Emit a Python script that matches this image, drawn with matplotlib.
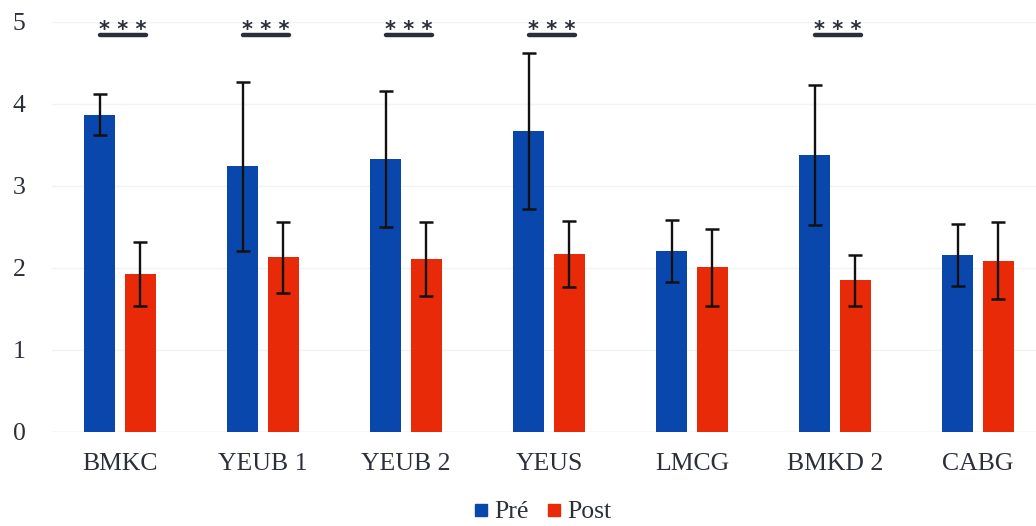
import matplotlib
matplotlib.use("Agg")
import matplotlib.pyplot as plt
from matplotlib.lines import Line2D
import numpy as np

categories = ["BMKC", "YEUB 1", "YEUB 2", "YEUS", "LMCG", "BMKD 2", "CABG"]
pre = [3.87, 3.24, 3.33, 3.67, 2.21, 3.38, 2.16]
pre_err = [0.25, 1.03, 0.83, 0.95, 0.38, 0.85, 0.38]
post = [1.93, 2.13, 2.11, 2.17, 2.01, 1.85, 2.09]
post_err = [0.39, 0.43, 0.45, 0.40, 0.47, 0.31, 0.47]
significant = ["BMKC", "YEUB 1", "YEUB 2", "YEUS", "BMKD 2"]
yticks = [0, 1, 2, 3, 4, 5]

BLUE = "#0a47ad"
RED = "#e82a08"
TXT = "#2b2f38"

plt.rcParams["font.family"] = ["Liberation Serif", "DejaVu Serif"]

W, H = 1036, 526
fig = plt.figure(figsize=(W / 100, H / 100), dpi=100)
L, R, B, T = 52, 1036, 432, 22
ax = fig.add_axes([L / W, (H - B) / H, (R - L) / W, (B - T) / H])

x = np.arange(len(categories))
bw = 0.217
off = 0.143
ax.bar(x - off, pre, bw, color=BLUE, zorder=2)
ax.bar(x + off, post, bw, color=RED, zorder=2)
ax.errorbar(x - off, pre, yerr=pre_err, fmt="none", ecolor="#111111",
            elinewidth=1.7, capsize=5, capthick=1.8, zorder=3)
ax.errorbar(x + off, post, yerr=post_err, fmt="none", ecolor="#111111",
            elinewidth=1.7, capsize=5, capthick=1.8, zorder=3)

px = 143.0
a = (L - 120) / px
b = (R - 120) / px
ax.set_xlim(a, b)
ax.set_ylim(0, 5)
ax.set_yticks(yticks)
ax.set_yticklabels([str(t) for t in yticks])
ax.set_xticks(x)
ax.set_xticklabels(categories)
ax.tick_params(axis="both", length=0, labelsize=18.5, colors=TXT)
ax.tick_params(axis="y", pad=19)
ax.tick_params(axis="x", pad=15)
for s in ax.spines.values():
    s.set_visible(False)
ax.axhline(0, color="#e6e6e6", lw=1, zorder=1)
ax.yaxis.grid(True, color="#f3f3f3", lw=1, zorder=0)
ax.set_axisbelow(True)

for i, c in enumerate(categories):
    if c in significant:
        ax.text(i + 0.02, 4.83, "* * *", ha="center", va="baseline", fontsize=15,
                fontweight="bold", color=TXT, family="DejaVu Sans")
        ax.plot([i - 0.14, i + 0.18], [4.84, 4.84], color=TXT, lw=3.2,
                solid_capstyle="round", clip_on=False)

handles = [Line2D([], [], marker="s", ls="none", color=BLUE, markersize=9),
           Line2D([], [], marker="s", ls="none", color=RED, markersize=9)]
leg = fig.legend(handles, ["Pré", "Post"], loc="center", bbox_to_anchor=(541 / W, 14 / H),
                 ncol=2, frameon=False, fontsize=18.5, handletextpad=0.1,
                 columnspacing=0.6, handlelength=0.8, borderpad=0)
for t in leg.get_texts():
    t.set_color(TXT)

fig.savefig("out.png", dpi=100)
